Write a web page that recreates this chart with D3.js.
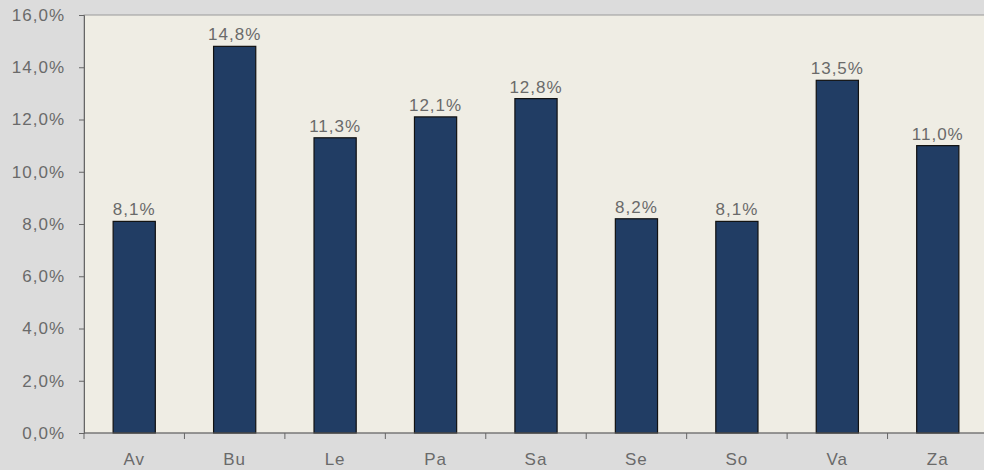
<!DOCTYPE html>
<html><head><meta charset="utf-8">
<script src="https://cdn.jsdelivr.net/npm/d3@7"></script>
<style>body{margin:0;background:#dcdcdc;overflow:hidden}svg{display:block}</style>
</head><body>
<svg id="c" width="984" height="470"></svg>
<script>
const categories = ["Av","Bu","Le","Pa","Sa","Se","So","Va","Za"];
const values = [8.1,14.8,11.3,12.1,12.8,8.2,8.1,13.5,11.0];
const yTicks = [0,2,4,6,8,10,12,14,16];

const svg = d3.select("#c");
const L = 84, R = 988, T = 15, B = 433;
const x = d3.scaleBand().domain(categories).range([L, R]).paddingInner(0.58).paddingOuter(0.29);
const y = d3.scaleLinear().domain([0,16]).range([B, T]);
const fmt = v => v.toFixed(1).replace(".", ",") + "%";
const textCol = "#6a6a6a";
const font = "Liberation Sans, Arial, sans-serif";
const fs = 17;
const ls = "1px";

svg.append("rect").attr("width",984).attr("height",470).attr("fill","#dcdcdc");
svg.append("rect").attr("x",L).attr("y",T).attr("width",R-L).attr("height",B-T)
  .attr("fill","#efede4").attr("stroke","#9a9a9a").attr("stroke-width",1);

svg.selectAll("rect.bar").data(values).join("rect").attr("class","bar")
  .attr("x",(d,i)=>x(categories[i])).attr("width",x.bandwidth())
  .attr("y",d=>y(d)).attr("height",d=>B-y(d))
  .attr("fill","#213d64").attr("stroke","#111").attr("stroke-width",1.2);

svg.selectAll("text.lbl").data(values).join("text").attr("class","lbl")
  .attr("x",(d,i)=>x(categories[i])+x.bandwidth()/2).attr("y",d=>y(d)-6)
  .attr("text-anchor","middle").attr("font-family",font).attr("font-size",fs)
  .attr("letter-spacing",ls).attr("fill",textCol).text(fmt);

const yAxis = svg.append("g").attr("transform",`translate(${L},0)`)
  .call(d3.axisLeft(y).tickValues(yTicks).tickFormat(fmt).tickSize(5).tickPadding(14));
yAxis.select(".domain").attr("stroke","#666");
yAxis.selectAll(".tick line").attr("stroke","#666");
yAxis.selectAll("text").attr("font-family",font).attr("font-size",fs)
  .attr("letter-spacing",ls).attr("fill",textCol);

const step = x.step();
const xAxisG = svg.append("g").attr("transform",`translate(0,${B})`);
xAxisG.append("line").attr("x1",L).attr("x2",R).attr("stroke","#666");
xAxisG.selectAll("line.tk").data(d3.range(categories.length+1)).join("line").attr("class","tk")
  .attr("x1",i=>L+i*step).attr("x2",i=>L+i*step).attr("y1",0).attr("y2",6).attr("stroke","#666");
xAxisG.selectAll("text").data(categories).join("text")
  .attr("x",d=>x(d)+x.bandwidth()/2).attr("y",32).attr("text-anchor","middle")
  .attr("font-family",font).attr("font-size",fs).attr("letter-spacing",ls)
  .attr("fill",textCol).text(d=>d);
</script>
</body></html>
